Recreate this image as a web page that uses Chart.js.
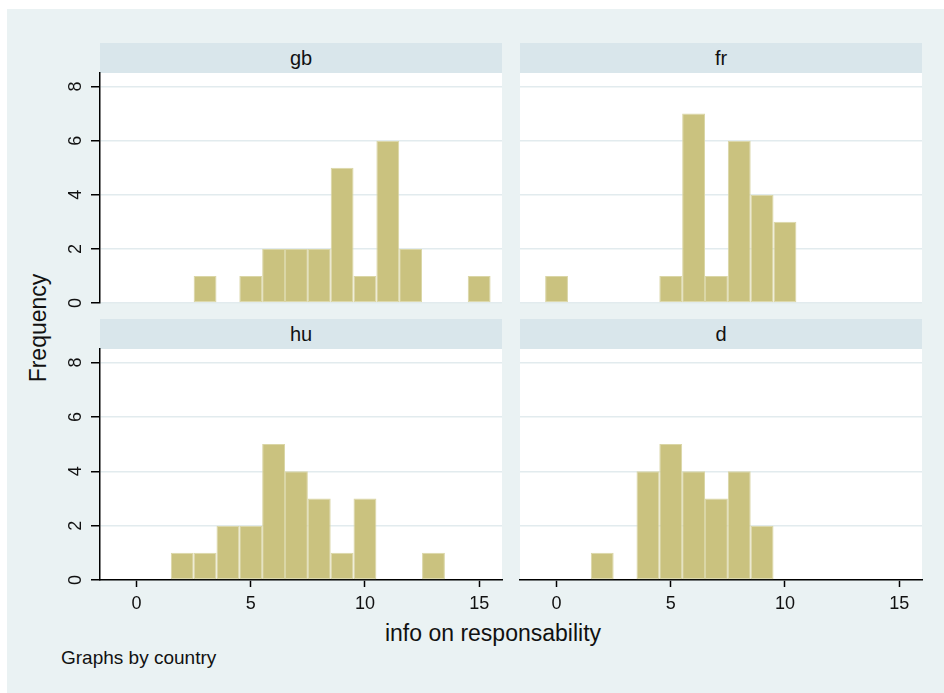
<!DOCTYPE html>
<html>
<head>
<meta charset="utf-8">
<title>info on responsability by country</title>
<script src="https://cdn.jsdelivr.net/npm/chart.js@4/dist/chart.umd.min.js"></script>
<style>
  body { margin: 0; width: 944px; height: 693px; overflow: hidden; position: relative; background: #fff;
         font-family: 'Liberation Sans', Arial, sans-serif; color: #111; }
  #bg { position: absolute; left: 7px; top: 9px; width: 937px; height: 684px; background: #EAF2F3; }
  .hdr { position: absolute; height: 30px; line-height: 30px; background: #D9E6EB; text-align: center; font-size: 20px; }
  canvas { position: absolute; }
  .txt { position: absolute; white-space: nowrap; }
</style>
</head>
<body>
<div id="bg"></div>
<div class="txt" style="left:38px;top:328px;font-size:23px;line-height:23px;transform:translate(-50%,-50%) rotate(-90deg);">Frequency</div>
<div class="txt" style="left:493px;top:622px;font-size:23px;line-height:23px;transform:translateX(-50%);">info on responsability</div>
<div class="txt" style="left:61px;top:648px;font-size:19px;line-height:20px;">Graphs by country</div>

<script>
// histogram bins (value of "info on responsability") and frequencies per country
const bins     = [0, 1, 2, 3, 4, 5, 6, 7, 8, 9, 10, 11, 12, 13, 14, 15];
const gbCounts = [0, 0, 0, 1, 0, 1, 2, 2, 2, 5, 1, 6, 2, 0, 0, 1];
const frCounts = [1, 0, 0, 0, 0, 1, 7, 1, 6, 4, 3, 0, 0, 0, 0, 0];
const huCounts = [0, 0, 1, 1, 2, 2, 5, 4, 3, 1, 3, 0, 0, 1, 0, 0];
const dCounts  = [0, 0, 1, 0, 4, 5, 4, 3, 4, 2, 0, 0, 0, 0, 0, 0];

const xTicks = [0, 5, 10, 15];
const yTicks = [0, 2, 4, 6, 8];

const FONT = "'Liberation Sans', Arial, sans-serif";

// fills the plot region white (Stata plotregion)
const plotBg = {
  id: 'plotBg',
  beforeDraw(chart) {
    const { ctx, chartArea: a } = chart;
    ctx.save();
    ctx.fillStyle = '#fff';
    ctx.fillRect(a.left, a.top, a.right - a.left, a.bottom - a.top);
    ctx.restore();
  }
};

const panels = [
  { name: 'gb', counts: gbCounts, left: 100, top: 43,  plotH: 230, showY: true,  showX: false },
  { name: 'fr', counts: frCounts, left: 520, top: 43,  plotH: 230, showY: false, showX: false },
  { name: 'hu', counts: huCounts, left: 100, top: 319, plotH: 231, showY: true,  showX: true },
  { name: 'd',  counts: dCounts,  left: 520, top: 319, plotH: 231, showY: false, showX: true }
];

panels.forEach(p => {
  const hdr = document.createElement('div');
  hdr.className = 'hdr';
  hdr.style.left = p.left + 'px';
  hdr.style.top = p.top + 'px';
  hdr.style.width = '402px';
  hdr.textContent = p.name;
  document.body.appendChild(hdr);

  const padTop = 25, axisW = 50, padRight = 25;
  const bottomH = p.showX ? 45 : 25;
  const cv = document.createElement('canvas');
  cv.width = axisW + 402 + padRight;
  cv.height = padTop + p.plotH + bottomH;
  cv.style.left = (p.left - axisW) + 'px';
  cv.style.top = (p.top + 30 - padTop) + 'px';
  document.body.appendChild(cv);

  new Chart(cv.getContext('2d'), {
    type: 'bar',
    data: {
      datasets: [{
        data: bins.map((b, i) => ({ x: b, y: p.counts[i] || null })),
        backgroundColor: '#CAC27F',
        borderColor: '#DAD6A6',
        borderWidth: 1,
        borderSkipped: false,
        inflateAmount: 0,
        barPercentage: 1,
        categoryPercentage: 1
      }]
    },
    options: {
      responsive: false,
      animation: false,
      layout: { padding: { top: padTop, right: padRight, left: 0, bottom: p.showX ? 0 : bottomH } },
      plugins: { legend: { display: false }, tooltip: { enabled: false } },
      scales: {
        x: {
          type: 'linear',
          min: -1.6,
          max: 16,
          offset: false,
          display: p.showX,
          afterBuildTicks: s => { s.ticks = xTicks.map(v => ({ value: v })); },
          afterFit: s => { s.height = p.showX ? bottomH : 0; },
          border: { color: '#000', width: 1.5 },
          grid: { offset: false, drawOnChartArea: false, tickColor: '#000', tickLength: 7, tickWidth: 1.5 },
          ticks: { color: '#111', font: { size: 18, family: FONT }, padding: 6, maxRotation: 0 }
        },
        y: {
          min: 0,
          max: 8.5,
          afterBuildTicks: s => { s.ticks = yTicks.map(v => ({ value: v })); },
          afterFit: s => { s.width = axisW; },
          border: { display: p.showY, color: '#000', width: 1.5 },
          grid: { color: '#E2EBEE', lineWidth: 1.5, tickColor: '#000', tickWidth: 1.5,
                  tickLength: 9, drawTicks: p.showY },
          ticks: { display: p.showY, color: '#111', font: { size: 18, family: FONT },
                   minRotation: 90, maxRotation: 90, crossAlign: 'center', padding: 10 }
        }
      }
    },
    plugins: [plotBg]
  });
});
</script>
</body>
</html>
